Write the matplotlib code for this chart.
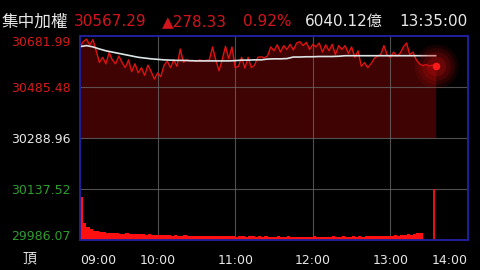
import numpy as np
import matplotlib; matplotlib.use('Agg'); import matplotlib.pyplot as plt

plt.rcParams['font.family'] = ['DejaVu Sans', 'Noto Sans CJK TC']

# index price, one value every 2.5 min from 09:00
price = [30641, 30660, 30670, 30648, 30668, 30625, 30580, 30600, 30575, 30618,
         30590, 30575, 30605, 30580, 30560, 30590, 30545, 30575, 30540, 30560,
         30530, 30570, 30545, 30516, 30540, 30525, 30570, 30585, 30560, 30590,
         30565, 30632, 30580, 30590, 30585, 30588, 30584, 30590, 30586, 30588,
         30590, 30640, 30590, 30548, 30592, 30642, 30595, 30640, 30560, 30565,
         30600, 30558, 30600, 30560, 30570, 30600, 30602, 30598, 30605, 30640,
         30625, 30648, 30620, 30645, 30630, 30650, 30628, 30655, 30660, 30645,
         30658, 30630, 30650, 30640, 30655, 30620, 30648, 30625, 30650, 30610,
         30645, 30630, 30645, 30615, 30640, 30600, 30625, 30565, 30580, 30560,
         30575, 30595, 30605, 30610, 30645, 30610, 30600, 30620, 30605, 30615,
         30640, 30655, 30610, 30620, 30590, 30575, 30568, 30572, 30566, 30570,
         30567.29]
# average price, every 5 min
avg = [30641, 30645, 30640, 30632, 30625, 30620, 30615, 30610, 30605, 30600,
       30597, 30594, 30592, 30590, 30589, 30588, 30588, 30587, 30586, 30586,
       30586, 30586, 30586, 30586, 30587, 30589, 30589, 30590, 30590, 30593,
       30594, 30594, 30595, 30601, 30601, 30602, 30602, 30603, 30603, 30603,
       30604, 30606, 30606, 30606, 30606, 30606, 30606, 30606, 30606, 30606,
       30606, 30606, 30606, 30606, 30606, 30606]
# traded value per 2.5 min (億)
vol = [211, 82, 62, 52, 46, 42, 40, 38, 36, 35,
       33, 34, 31, 30, 32, 29, 28, 30, 27, 28,
       26, 27, 25, 26, 24, 25, 23, 24, 22, 23,
       22, 21, 23, 20, 22, 21, 20, 22, 19, 21,
       20, 19, 21, 18, 20, 19, 18, 20, 17, 19,
       18, 17, 19, 18, 17, 18, 16, 18, 17, 16,
       17, 18, 16, 17, 18, 16, 17, 15, 17, 16,
       17, 16, 18, 16, 17, 15, 17, 16, 18, 17,
       16, 18, 17, 16, 18, 17, 19, 17, 18, 19,
       18, 20, 19, 21, 20, 22, 21, 23, 22, 24,
       25, 27, 26, 30, 33, 36]
close_vol = 250
close_t = 273.5

ylevels = [29895.93, 30092.44, 30288.96, 30485.48, 30681.99]
ylabels = ['29986.07', '30137.52', '30288.96', '30485.48', '30681.99']
ycolors = ['#2f9e2f', '#2f9e2f', '#e8e8e8', '#d41a1a', '#d41a1a']
xticks = [0, 60, 120, 180, 240, 300]
xlabels = ['09:00', '10:00', '11:00', '12:00', '13:00', '14:00']
ref = 30288.96

t = np.arange(len(price)) * 2.5
ta = np.arange(len(avg)) * 5.0
tv = np.arange(len(vol)) * 2.5

fig = plt.figure(figsize=(4.8, 2.7), dpi=100, facecolor='black')
ax = fig.add_axes([80/480, 1-240/270, 388/480, 204/270], facecolor='black')
ax.set_xlim(0, 300); ax.set_ylim(ylevels[0], ylevels[-1])
ax.fill_between(t, price, ref, color='#3f0303', lw=0, zorder=1)
for x in xticks[1:-1]: ax.axvline(x, color='#6a6a6a', lw=0.8, alpha=0.75, zorder=2)
for y in ylevels[1:-1]: ax.axhline(y, color='#6a6a6a', lw=0.8, alpha=0.75, zorder=2)
ax.plot(t, price, color='#e01212', lw=1.0, zorder=3)
ax.plot(ta, avg, color='#dde6e6', lw=1.2, zorder=4)
for s, a in [(1000, 0.10), (700, 0.14), (430, 0.18), (200, 0.24)]:
    ax.scatter(t[-1], price[-1], s=s, color='#c80e0e', alpha=a, lw=0, zorder=5, clip_on=False)
ax.scatter(t[-1], price[-1], s=30, color='#ff1a1a', lw=0, zorder=6)

ax2 = ax.twinx(); ax2.set_ylim(0, 1000)
ax2.bar(tv, vol, width=2.5, align='edge', color='#ff1010', lw=0)
ax2.vlines(close_t, 0, close_vol, color='#ff1010', lw=1.3)
ax2.set_yticks([])
for a in (ax, ax2):
    for sp in a.spines.values(): sp.set_color('#1f1f9a'); sp.set_linewidth(1.3)

ax.set_yticks(ylevels); ax.set_yticklabels(ylabels, fontsize=9)
ax.tick_params(axis='y', length=0, pad=7)
for lab, c in zip(ax.get_yticklabels(), ycolors): lab.set_color(c)
ax.get_yticklabels()[-1].set_va('top'); ax.get_yticklabels()[0].set_va('baseline')
ax.set_xticks(xticks); ax.set_xticklabels(xlabels, fontsize=9, color='#e8e8e8')
ax.tick_params(axis='x', length=0, pad=10)
ax.get_xticklabels()[0].set_ha('left'); ax.get_xticklabels()[-1].set_ha('right')

hy = 1 - 21.5/270
fig.text(2/480, hy, '集中加權', color='#e8e8e8', fontsize=12, va='center')
fig.text(74/480, hy, '30567.29', color='#d4141c', fontsize=11, va='center')
fig.text(162/480, hy, '▲278.33', color='#d4141c', fontsize=11, va='center')
fig.text(243/480, hy, '0.92%', color='#d4141c', fontsize=11, va='center')
fig.text(305/480, hy, '6040.12億', color='#e8e8e8', fontsize=11, va='center')
fig.text(399/480, hy, '13:35:00', color='#e8e8e8', fontsize=11, va='center')
fig.text(22/480, 1-259/270, '頂', color='#e8e8e8', fontsize=10, va='center')

fig.savefig('out.png', dpi=100, facecolor='black')
